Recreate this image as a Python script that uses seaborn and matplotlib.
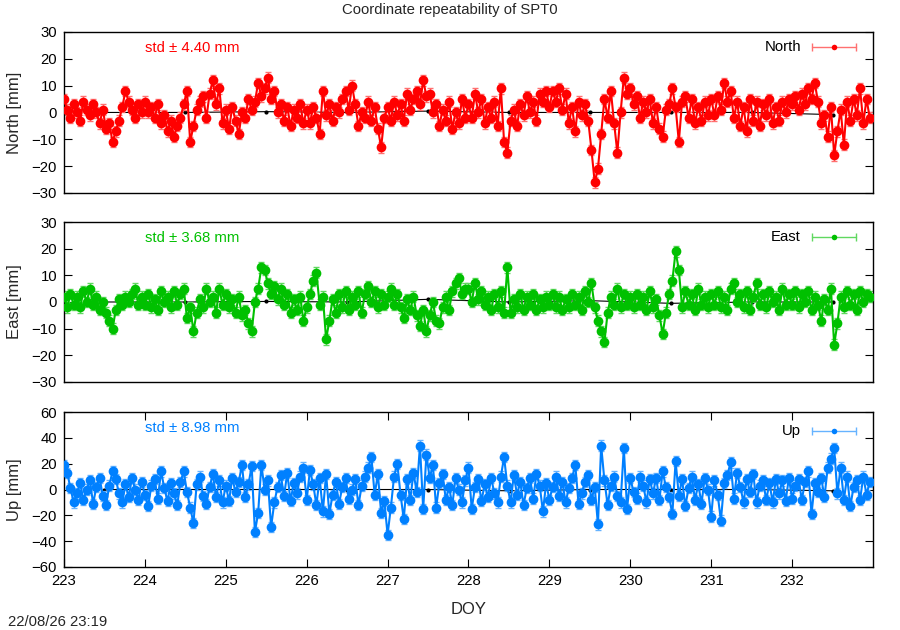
import numpy as np
import pandas as pd
import matplotlib
matplotlib.use("Agg")
import matplotlib.pyplot as plt
import seaborn as sns

# epochs every 0.04 day, DOY 223.00 .. 232.96
doy = np.linspace(223.0, 232.96, 250)

# residuals in mm, one row per day (25 epochs)
north_mm = [
    5, 1, -2, 3, 0, -3, 4, 1, -1, 3, 0, -4, 1, -6, -4, -11, -7, -3, 2, 8, 4, 1, -2, 3, 0,
    4, 0, 2, -2, 3, -4, -1, -7, -3, -9, -5, -2, 3, 8, -11, -5, 1, 4, 6, -2, 7, 12, 3, 9, -4,
    1, -6, 2, -3, -8, 0, -2, 5, 1, 4, 11, 6, 9, 13, 5, 8, 0, 3, -3, 2, -5, 1, -2, 3, -4,
    1, -4, 2, -2, -8, 8, -1, 3, -3, 2, 0, 5, 8, 1, 10, 3, -5, 0, -2, 4, -3, 2, -6, -13, -2,
    2, -3, 4, -1, 3, -3, 7, 1, 5, 8, 3, 12, 6, 7, 0, 3, -5, 1, -3, 4, -6, 0, -4, 5, -2,
    3, -2, 7, 0, 5, -4, 2, -2, 4, -5, 9, -11, -15, -3, 1, -5, 3, -1, 6, 0, 4, -3, 7, 4, 8,
    2, 8, 4, 9, 1, 7, -4, 2, -7, 4, -1, 3, -3, -14, -26, -21, -8, 5, -2, 8, -4, -15, 0, 13, 7,
    9, 3, 6, -2, 4, 0, 5, -4, 2, -6, -9, 1, 3, 9, 2, -11, 4, 6, -2, 5, -4, 2, -3, 4, -1,
    5, -1, 6, 1, 11, 4, 8, -2, 4, -5, 2, -7, 5, -3, 4, -5, 3, -1, 5, -4, 2, -3, 4, 0, 5,
    3, 6, 1, 7, 3, 9, 5, 11, 4, -4, -1, -9, 2, -16, -7, 1, -12, 4, -3, 5, -1, 9, -4, 5, -2,
]
east_mm = [
    2, -2, 3, -1, 2, -2, 4, 0, 5, -1, 2, -3, 0, -4, -7, -10, -3, 1, -1, 2, 0, 3, 5, -1, 2,
    -1, 3, -2, 1, -3, 4, 0, 2, -2, 4, -1, 3, 5, -6, -2, -11, -4, 1, -2, 5, 0, 2, -4, 5, -1,
    3, -2, 1, -4, 2, -5, -3, -8, -11, 0, 5, 13, 12, 7, 3, 6, 1, 5, -1, 3, -4, 1, -3, 2, -7,
    -2, 3, 8, 11, -1, 2, -14, -7, 1, -4, 3, -2, 4, -3, 2, -1, 4, -4, 3, 6, 0, 4, -2, 3, -1,
    2, 5, -1, 3, -2, -6, 1, -3, 2, -5, -9, -3, -11, -5, 0, -7, -8, -2, 2, -3, 4, 7, 9, 3, 5,
    5, 0, 7, 1, 4, -1, 2, -3, 3, -2, 4, -4, 13, -4, 1, -2, 3, -3, 2, -1, 3, -3, 1, -2, 2,
    -1, 3, -2, 2, -3, 1, -2, 3, -1, 2, -3, 4, 0, 7, -2, -7, -11, -15, -4, 2, -1, 5, -2, 3, -1,
    2, -2, 3, -1, 2, -3, 4, -2, 1, -5, -12, -4, 3, 8, 19, 12, -2, 4, -1, 3, -3, 5, -1, 2, -2,
    3, -1, 4, -2, 2, -3, 5, 7, 0, 3, -2, 4, -3, 2, 7, -1, 3, -2, 4, 0, 2, -3, 5, -1, 3,
    -1, 4, -2, 3, 0, 4, -3, 2, -1, -7, 1, -3, 5, -16, -8, 2, -2, 4, -1, 3, -3, 4, 0, 3, 2,
]
up_mm = [
    19, 13, 1, -10, -3, 5, -8, 0, 7, -11, 2, 9, -5, -12, 3, 14, 8, -3, -10, 4, -6, 9, 0, -8, 6,
    -4, -13, 3, 8, -7, 14, 1, -9, 5, -3, -12, 6, 14, -2, -14, -26, 4, 10, -5, -11, 2, 12, -6, 7, -10,
    3, -9, 9, -2, 6, 19, -6, 4, 18, -33, -18, 19, 0, 7, -29, -10, 2, 11, -5, 13, -9, 5, -3, 10, 17,
    -8, 15, 4, -12, 9, -17, 12, -19, -4, 6, -11, 2, 9, -7, 0, 8, -12, 3, 10, 17, 25, -4, 12, -18, -9,
    -35, -14, 10, 20, -4, -23, 8, -8, 13, -2, 34, -15, 27, 9, 19, -14, 5, 12, -8, 2, -12, 9, 0, -10, 7,
    17, -15, 2, 8, -9, 4, -6, 9, -3, -10, 10, 25, 3, -10, 11, -4, 6, -12, 1, 9, -7, 12, 3, -17, 5,
    -8, 2, 10, -5, 6, -10, 1, 9, 19, -11, -3, 6, 11, -8, 2, -27, 34, 7, -12, 3, 10, -5, -10, 32, -15,
    9, -2, -7, 10, 3, -10, 8, -3, 9, -8, 14, 2, -6, -19, 22, -5, 8, -13, 1, 10, -8, 4, -11, 9, 0,
    -21, 7, -4, -24, 5, 11, 21, -7, 13, 2, -10, 8, -2, 12, -10, 3, 7, -8, 5, -10, 8, -3, 7, -9, 9,
    -7, 3, 8, -8, 6, 14, -19, 5, -2, 9, -6, 17, 24, 32, -3, 17, -8, 10, -13, 2, 7, -8, 10, -4, 6,
]
north_sigma, east_sigma, up_sigma = 2.0, 2.0, 4.0

# daily solutions (black)
daily_doy = [223.5, 224.5, 225.5, 226.5, 227.5, 228.5, 229.5, 230.5, 231.5, 232.5]
north_daily = [0.0, 0.0, 0.3, 0.0, 0.5, 0.0, 0.0, 0.0, 0.0, -0.8]
east_daily = [0.0, 0.0, 0.2, 0.0, 1.0, 0.0, 0.5, -0.5, 0.0, 0.0]
up_daily = [0.0, 0.0, 0.0, 0.0, 0.0, -1.0, 0.0, 0.0, 0.0, -1.0]

std_values = [4.40, 3.68, 8.98]
components = ["North", "East", "Up"]
ylabels = ["North [mm]", "East [mm]", "Up [mm]"]
ylims = [(-30, 30), (-30, 30), (-60, 60)]
yticks = [range(-30, 31, 10), range(-30, 31, 10), range(-60, 61, 20)]
xticks = list(range(223, 233))

colors = ["#ff0000", "#00c000", "#0080ff"]
light = ["#ff7070", "#60d860", "#66b3ff"]

sns.set_theme(style="white")
plt.rcParams["font.family"] = ["Liberation Sans", "DejaVu Sans"]
plt.rcParams["font.size"] = 10.7

fig = plt.figure(figsize=(9, 6.3), dpi=100)
boxes = [(0.0711, 0.6937, 0.8989, 0.2556),
         (0.0711, 0.3937, 0.8989, 0.2539),
         (0.0711, 0.1000, 0.8989, 0.2460)]

series = [north_mm, east_mm, up_mm]
sigmas = [north_sigma, east_sigma, up_sigma]
dailies = [north_daily, east_daily, up_daily]

for i, box in enumerate(boxes):
    ax = fig.add_axes(box)
    df = pd.DataFrame({"doy": doy, "mm": series[i]})
    dd = pd.DataFrame({"doy": daily_doy, "mm": dailies[i]})

    sns.lineplot(data=dd, x="doy", y="mm", ax=ax, color="black", lw=0.8,
                 marker="o", markersize=3, markeredgewidth=0, sort=False,
                 estimator=None, zorder=1)
    ax.errorbar(df["doy"], df["mm"], yerr=sigmas[i], fmt="none",
                ecolor=light[i], elinewidth=1.0, capsize=2.2, capthick=1.0, zorder=2)
    sns.lineplot(data=df, x="doy", y="mm", ax=ax, color=colors[i], lw=1.5,
                 marker="o", markersize=7, markeredgewidth=0, sort=False,
                 estimator=None, zorder=3)

    ax.set_xlim(223, 233)
    ax.set_ylim(*ylims[i])
    ax.set_yticks(list(yticks[i]))
    ax.set_xticks(xticks)
    ax.set_ylabel(ylabels[i], labelpad=7)
    last = i == 2
    ax.tick_params(direction="in", length=6, width=0.8, colors="black",
                   left=True, right=True, top=last, bottom=last,
                   labelbottom=last, labelsize=10.7, pad=5)
    ax.set_xlabel("DOY" if last else "", labelpad=10)
    for sp in ax.spines.values():
        sp.set_color("black")
        sp.set_linewidth(1.0)

    ax.text(0.100, 0.90, f"std \u00b1 {std_values[i]:.2f} mm", color=colors[i],
            transform=ax.transAxes, ha="left", va="center")

    # gnuplot-like key: label, then |--o--| sample
    ky = 0.905 if i < 2 else 0.875
    ax.text(0.911, ky, components[i], transform=ax.transAxes, ha="right",
            va="center", color="black")
    ax.plot([0.925, 0.979], [ky, ky], transform=ax.transAxes, color=light[i],
            lw=1.0, marker="|", markersize=6, clip_on=False, zorder=5)
    ax.plot([0.952], [ky], transform=ax.transAxes, color=colors[i],
            marker="o", markersize=4, markeredgewidth=0, zorder=6)

fig.text(0.5, 0.984, "Coordinate repeatability of SPT0", ha="center", va="center")
fig.text(0.009, 0.013, "22/08/26 23:19", ha="left", va="center")

fig.savefig("out.png", dpi=100, facecolor="white")
